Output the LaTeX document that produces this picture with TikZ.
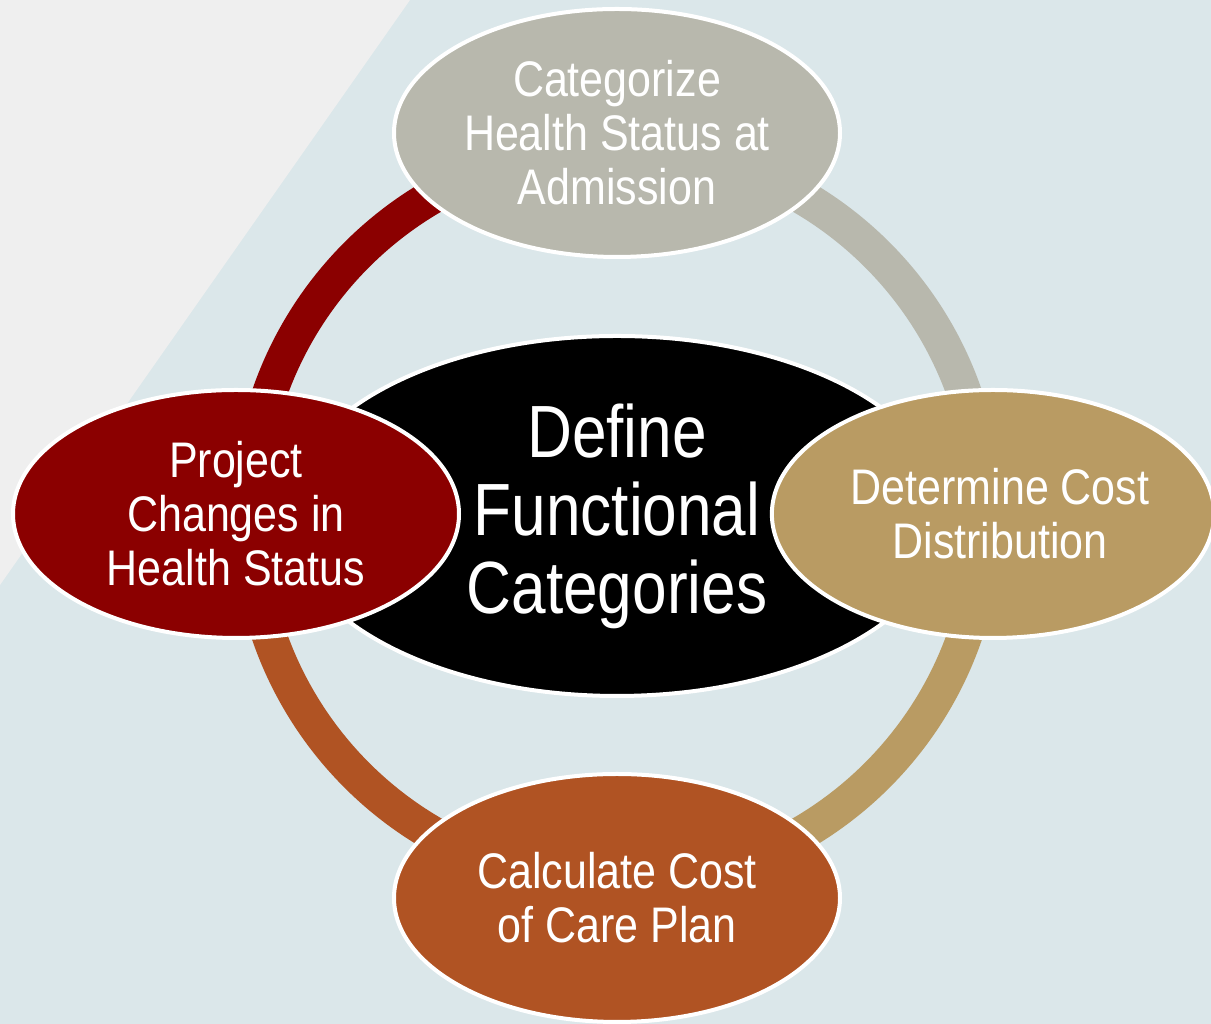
\documentclass[tikz,border=0pt]{standalone}
\usepackage{fontspec}
\usetikzlibrary{shapes.geometric}

\newfontfamily\narrowsans[FakeStretch=0.86]{Liberation Sans}
\newfontfamily\coresans[FakeStretch=0.84]{Liberation Sans}

\definecolor{bgblue}{HTML}{DBE7EA}
\definecolor{bggrey}{HTML}{EFEFEF}
\definecolor{stone}{HTML}{B8B8AD}
\definecolor{sand}{HTML}{B99B63}
\definecolor{wine}{HTML}{8B0000}
\definecolor{rust}{HTML}{B05323}

\tikzset{
    phase/.style={ellipse, draw=white, line width=4pt, inner sep=0pt,
        minimum width=446pt, minimum height=248pt, text=white, align=center,
        font=\narrowsans\fontsize{50}{54}\selectfont},
    core/.style={ellipse, draw=white, line width=4pt, inner sep=0pt,
        minimum width=662pt, minimum height=360pt, fill=black, text=white,
        align=center, font=\coresans\fontsize{74}{78}\selectfont},
    ring/.style={line width=35pt, line cap=butt},
}

\begin{document}
\begin{tikzpicture}[x=1pt, y=1pt]
    % backdrop
    \fill[bgblue] (0,0) rectangle (1211,1024);
    \fill[bggrey] (0,1024) -- (410,1024) -- (0,439) -- cycle;
    \useasboundingbox (0,0) rectangle (1211,1024);

    % ring behind the ellipses
    \coordinate (hub) at (617,509);
    \draw[ring, stone] ([shift={(0:368)}]hub) arc[start angle=0, end angle=90, radius=368];
    \draw[ring, wine] ([shift={(90:368)}]hub) arc[start angle=90, end angle=180, radius=368];
    \draw[ring, rust] ([shift={(180:368)}]hub) arc[start angle=180, end angle=270, radius=368];
    \draw[ring, sand] ([shift={(270:368)}]hub) arc[start angle=270, end angle=360, radius=368];

    \node[core] (define) at (617,508) {Define\\Functional\\Categories};

    \node[phase, fill=stone] (admit) at (617,891) {Categorize\\Health Status at\\Admission};
    \node[phase, fill=sand, minimum width=436pt] (cost) at (993,510) {\hspace*{14pt}Determine Cost\\\hspace*{14pt}Distribution};
    \node[phase, fill=rust] (plan) at (617,126) {Calculate Cost\\of Care Plan};
    \node[phase, fill=wine] (project) at (236,510) {Project\\Changes in\\Health Status};
\end{tikzpicture}
\end{document}
